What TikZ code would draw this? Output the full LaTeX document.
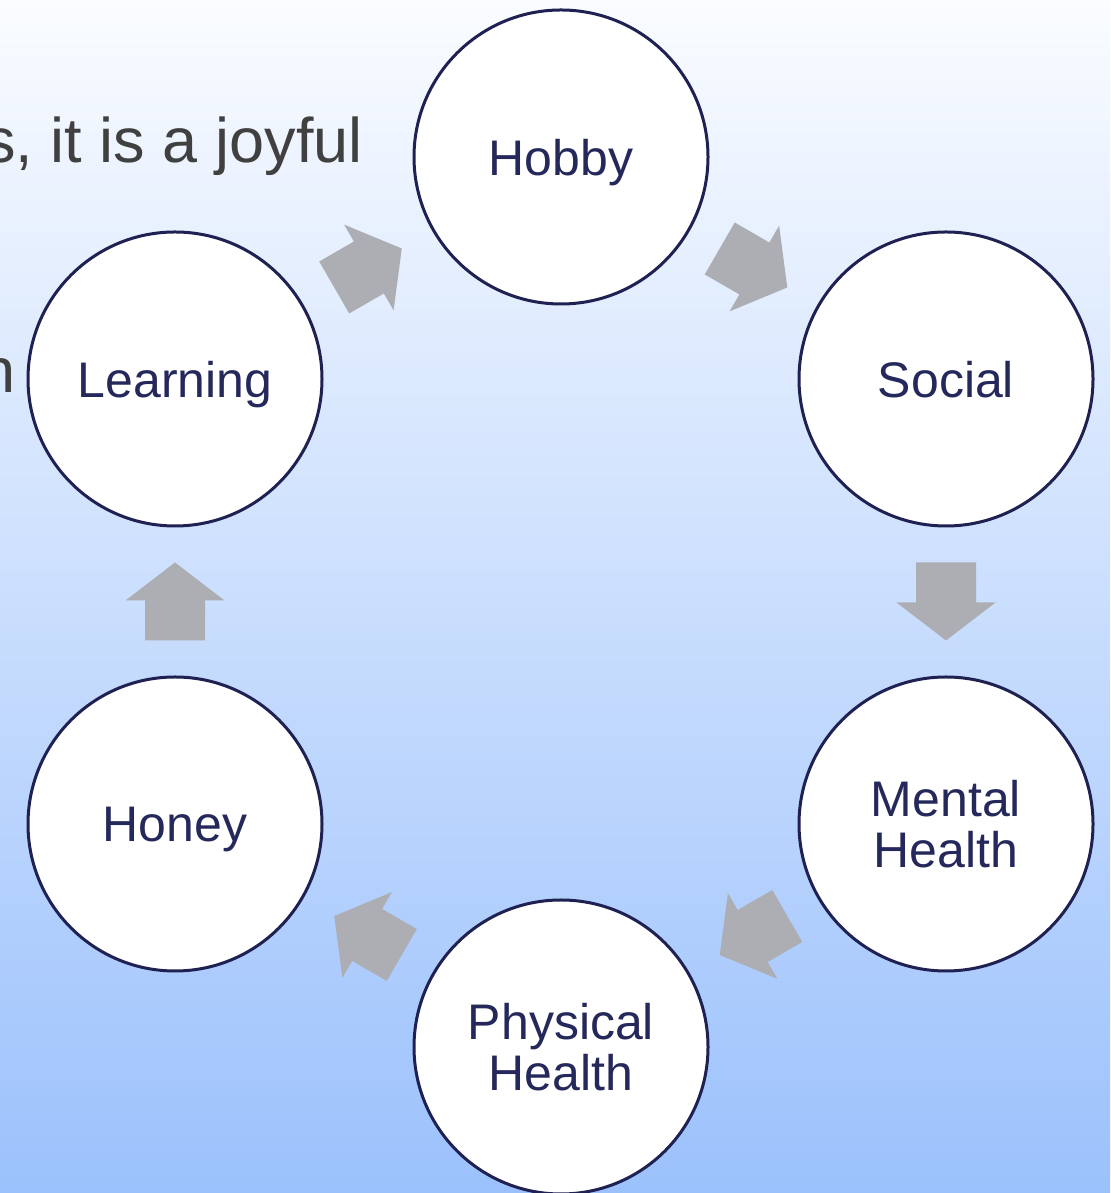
\documentclass[tikz,border=0pt]{standalone}
\usepackage{fontspec}
\setmainfont{Liberation Sans}
\usetikzlibrary{calc}
\definecolor{bgtop}{HTML}{FAFCFF}
\definecolor{bgbot}{HTML}{9BC1FC}
\definecolor{ringcol}{HTML}{1F2152}
\definecolor{labelcol}{HTML}{25285A}
\definecolor{arrowcol}{HTML}{ADAEB3}
\definecolor{bodytext}{HTML}{404040}
\newcommand{\flowarr}[3]{%
  \begin{scope}[shift={($(#1)!0.5!(#2)$)}, rotate=#3]
    \fill[flowarrow] (-39,-30) -- (1,-30) -- (1,-49.5) -- (39,0) -- (1,49.5) -- (1,30) -- (-39,30) -- cycle;
  \end{scope}}
\begin{document}
\begin{tikzpicture}[x=0.5pt,y=0.5pt,
  bubble/.style={circle, draw=ringcol, line width=1.5pt, fill=white, minimum size=147pt,
    inner sep=0pt, align=center, text=labelcol, font=\fontsize{25}{25.5}\selectfont, text depth=0pt},
  flowarrow/.style={fill=arrowcol},
  bodyline/.style={text=bodytext, font=\fontsize{31.5}{38}\selectfont, inner sep=0pt, anchor=base east}]
  \useasboundingbox (0,0) rectangle (1110,1193);
  \clip (0,0) rectangle (1110,1193);
  \shade[top color=bgtop, bottom color=bgbot] (0,0) rectangle (1110,1193);
  % partial body text behind the diagram
  \node[bodyline] (line1) at (363,1030) {s, it is a joyful};
  \node[bodyline] (line2) at (16,800) {n};
  % bubbles
  \node[bubble] (hobby)    at (561,1036) {Hobby};
  \node[bubble] (social)   at (946,814)  {Social};
  \node[bubble] (mental)   at (946,369)  {Mental\\Health};
  \node[bubble] (physical) at (561,146)  {Physical\\Health};
  \node[bubble] (honey)    at (175,369)  {Honey};
  \node[bubble] (learning) at (175,814)  {Learning};
  % block arrows
  \flowarr{learning}{hobby}{30}
  \flowarr{hobby}{social}{-30}
  \flowarr{social}{mental}{-90}
  \flowarr{mental}{physical}{210}
  \flowarr{physical}{honey}{150}
  \flowarr{honey}{learning}{90}
\end{tikzpicture}
\end{document}
